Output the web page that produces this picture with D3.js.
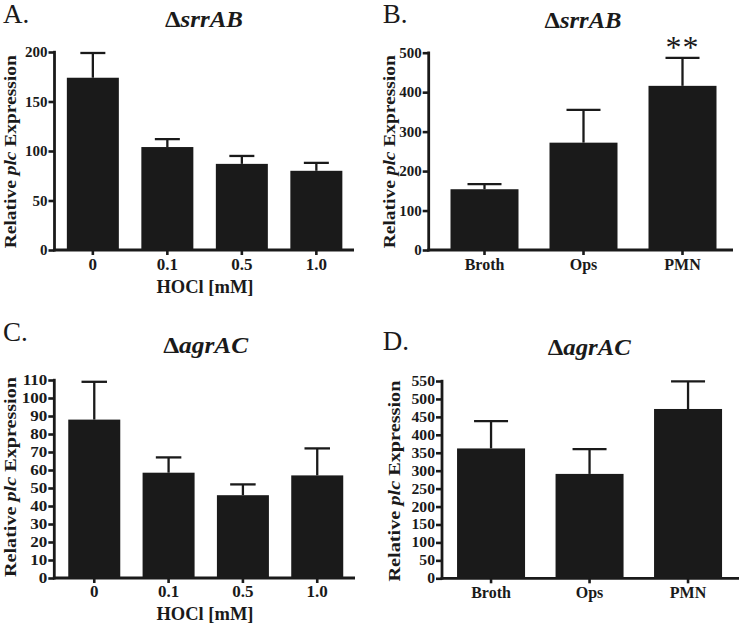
<!DOCTYPE html>
<html>
<head>
<meta charset="utf-8">
<script src="https://cdn.jsdelivr.net/npm/d3@7"></script>
<style>
  html, body { margin: 0; padding: 0; background: #fff; }
  svg { display: block; }
  text { font-family: "Liberation Serif", "Times New Roman", serif; fill: #1a1a1a; }
</style>
</head>
<body>
<svg id="chart" width="742" height="626"></svg>
<script>
// ---------------- DATA ----------------
const hoclCategories = ["0", "0.1", "0.5", "1.0"];
const conditionCategories = ["Broth", "Ops", "PMN"];

// Panel A: ΔsrrAB vs HOCl
const srrABHoclMeans = [174, 104, 87, 80];
const srrABHoclErrors = [25, 8, 8, 8];
const srrABHoclTicks = [0, 50, 100, 150, 200];

// Panel B: ΔsrrAB vs condition
const srrABCondMeans = [154, 272, 416];
const srrABCondErrors = [13, 83, 71];
const srrABCondTicks = [0, 100, 200, 300, 400, 500];
const srrABCondSignificance = ["", "", "**"];

// Panel C: ΔagrAC vs HOCl
const agrACHoclMeans = [88, 58.5, 46, 57];
const agrACHoclErrors = [21, 8.5, 6, 15];
const agrACHoclTicks = [0, 10, 20, 30, 40, 50, 60, 70, 80, 90, 100, 110];

// Panel D: ΔagrAC vs condition
const agrACCondMeans = [362, 291, 472];
const agrACCondErrors = [76, 69, 77];
const agrACCondTicks = [0, 50, 100, 150, 200, 250, 300, 350, 400, 450, 500, 550];

// ---------------- DRAWING ----------------
const svg = d3.select("#chart");
const ink = "#1a1a1a";
const serif = '"Liberation Serif", "Times New Roman", serif';

function drawPanel(p) {
  const g = svg.append("g");
  const yMax = p.ticks[p.ticks.length - 1];
  const y = d3.scaleLinear().domain([0, yMax]).range([p.y0, p.yTop]);
  const x = d3.scaleBand().domain(p.cats).range([p.bandStart, p.bandEnd]).padding(0);

  const data = p.cats.map((c, i) => ({ c, m: p.means[i], e: p.errs[i], s: p.sig ? p.sig[i] : "" }));
  // error bars (upper only)
  g.selectAll(".err").data(data).enter().append("line")
    .attr("x1", d => x(d.c) + x.bandwidth() / 2)
    .attr("x2", d => x(d.c) + x.bandwidth() / 2)
    .attr("y1", d => y(d.m))
    .attr("y2", d => y(d.m + d.e))
    .attr("stroke", ink).attr("stroke-width", 2.3);
  g.selectAll(".cap").data(data).enter().append("line")
    .attr("x1", d => x(d.c) + x.bandwidth() / 2 - p.capW / 2)
    .attr("x2", d => x(d.c) + x.bandwidth() / 2 + p.capW / 2)
    .attr("y1", d => y(d.m + d.e))
    .attr("y2", d => y(d.m + d.e))
    .attr("stroke", ink).attr("stroke-width", 2.3);
  // bars
  g.selectAll(".bar").data(data).enter().append("rect")
    .attr("x", d => x(d.c) + (x.bandwidth() - p.barW) / 2)
    .attr("width", p.barW)
    .attr("y", d => y(d.m))
    .attr("height", d => y(0) - y(d.m))
    .attr("fill", ink);

  // significance marks
  g.selectAll(".sig").data(data.filter(d => d.s)).enter().append("text")
    .attr("x", d => x(d.c) + x.bandwidth() / 2)
    .attr("y", d => y(d.m + d.e) - p.sigOffset)
    .attr("text-anchor", "middle")
    .attr("font-size", 32)
    .attr("letter-spacing", 1)
    .text(d => d.s);

  // y axis
  const yAxis = d3.axisLeft(y).tickValues(p.ticks).tickFormat(d3.format("d"))
    .tickSize(6).tickSizeOuter(0).tickPadding(1);
  const ya = g.append("g").attr("transform", `translate(${p.axisX},0)`).call(yAxis);
  ya.select(".domain").attr("stroke", ink).attr("stroke-width", 2.8)
    .attr("d", `M0,${p.y0 + 1.4}V${p.yTop - 1.2}`);
  ya.selectAll(".tick line").attr("stroke", ink).attr("stroke-width", 2.6);
  ya.selectAll(".tick text")
    .attr("font-family", serif)
    .attr("font-size", p.yTickFont).attr("font-weight", "bold").attr("fill", ink)
    .attr("x", -7 / p.yTickScale)
    .attr("transform", `scale(${p.yTickScale},1)`);

  // x axis
  const xAxis = d3.axisBottom(x).tickSize(5).tickSizeOuter(0).tickPadding(0);
  const xa = g.append("g").attr("transform", `translate(0,${p.y0})`).call(xAxis);
  xa.select(".domain").attr("stroke", ink).attr("stroke-width", 2.8)
    .attr("d", `M${p.axisX - 1.4},0H${p.xAxisEnd}`);
  xa.selectAll(".tick line").attr("stroke", ink).attr("stroke-width", 2.6);
  xa.selectAll(".tick text")
    .attr("font-family", serif)
    .attr("font-size", p.xTickFont).attr("font-weight", "bold").attr("fill", ink)
    .attr("dy", 0).attr("y", p.xTickBaseline);

  // y title
  const yt = g.append("text")
    .attr("transform", `translate(${p.yTitleX},${p.yTitleY}) rotate(-90)`)
    .attr("text-anchor", "middle")
    .attr("font-size", 17).attr("font-weight", "bold")
    .attr("textLength", p.yTitleLen).attr("lengthAdjust", "spacingAndGlyphs");
  yt.append("tspan").text("Relative ");
  yt.append("tspan").attr("font-style", "italic").text("plc");
  yt.append("tspan").text(" Expression");

  // x title
  if (p.xTitle) {
    g.append("text")
      .attr("x", p.xTitleX).attr("y", p.xTitleY)
      .attr("text-anchor", "middle")
      .attr("font-size", 18.5).attr("font-weight", "bold")
      .text(p.xTitle);
  }

  // panel title
  const t = g.append("text")
    .attr("x", p.titleX).attr("y", p.titleY)
    .attr("text-anchor", "middle")
    .attr("font-size", 24).attr("font-weight", "bold")
    .attr("textLength", p.titleLen).attr("lengthAdjust", "spacingAndGlyphs");
  t.append("tspan").text("Δ");
  t.append("tspan").attr("font-style", "italic").text(p.strain);

  // panel letter
  g.append("text")
    .attr("x", p.letterX).attr("y", p.letterY)
    .attr("font-size", 27)
    .text(p.letter);
}

drawPanel({
  letter: "A.", letterX: 3, letterY: 23,
  strain: "srrAB", titleX: 204, titleY: 27, titleLen: 78,
  cats: hoclCategories, means: srrABHoclMeans, errs: srrABHoclErrors, ticks: srrABHoclTicks,
  axisX: 54.5, y0: 250, yTop: 52, bandStart: 55.6, bandEnd: 353.6, barW: 52, capW: 25, xAxisEnd: 354,
  yTickFont: 15, yTickScale: 1, xTickFont: 17, xTickBaseline: 19.5,
  yTitleX: 16, yTitleY: 151.7, yTitleLen: 193,
  xTitle: "HOCl [mM]", xTitleX: 205, xTitleY: 293
});

drawPanel({
  letter: "B.", letterX: 382.7, letterY: 23.3,
  strain: "srrAB", titleX: 583, titleY: 27.7, titleLen: 77,
  cats: conditionCategories, means: srrABCondMeans, errs: srrABCondErrors, ticks: srrABCondTicks,
  sig: srrABCondSignificance, sigOffset: 0,
  axisX: 428.7, y0: 250, yTop: 52.7, bandStart: 435, bandEnd: 732, barW: 68, capW: 34, xAxisEnd: 733,
  yTickFont: 15, yTickScale: 1, xTickFont: 16, xTickBaseline: 20,
  yTitleX: 395, yTitleY: 151.7, yTitleLen: 193
});

drawPanel({
  letter: "C.", letterX: 3, letterY: 341,
  strain: "agrAC", titleX: 205.7, titleY: 352.7, titleLen: 85,
  cats: hoclCategories, means: agrACHoclMeans, errs: agrACHoclErrors, ticks: agrACHoclTicks,
  axisX: 54.3, y0: 578, yTop: 380, bandStart: 57.1, bandEnd: 354.4, barW: 52, capW: 25.5, xAxisEnd: 355,
  yTickFont: 14, yTickScale: 1.22, xTickFont: 17, xTickBaseline: 18.7,
  yTitleX: 16, yTitleY: 477, yTitleLen: 200,
  xTitle: "HOCl [mM]", xTitleX: 205, xTitleY: 620
});

drawPanel({
  letter: "D.", letterX: 382.7, letterY: 350,
  strain: "agrAC", titleX: 589.3, titleY: 355, titleLen: 83,
  cats: conditionCategories, means: agrACCondMeans, errs: agrACCondErrors, ticks: agrACCondTicks,
  axisX: 442, y0: 578.3, yTop: 381, bandStart: 441.8, bandEnd: 737.3, barW: 68, capW: 34, xAxisEnd: 739,
  yTickFont: 14, yTickScale: 1.12, xTickFont: 16, xTickBaseline: 20,
  yTitleX: 399.5, yTitleY: 481, yTitleLen: 201
});
</script>
</body>
</html>
